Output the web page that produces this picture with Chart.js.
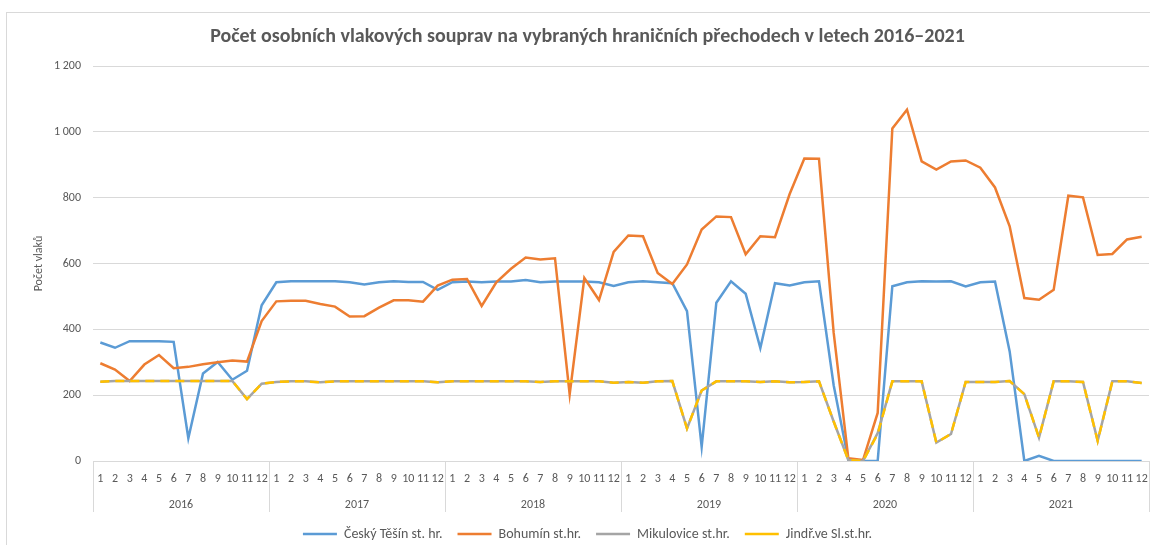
<!DOCTYPE html>
<html lang="cs">
<head>
<meta charset="utf-8">
<title>Počet osobních vlakových souprav</title>
<script src="https://cdn.jsdelivr.net/npm/chart.js@4.4.1/dist/chart.umd.min.js"></script>
<style>
  html, body { margin: 0; padding: 0; background: #fff; overflow: hidden; }
  #wrap { position: relative; width: 1150px; height: 545px; overflow: hidden; }
  #frame { position: absolute; left: 6px; top: 12px; width: 1150px; height: 545px;
           border: 1px solid #d9d9d9; pointer-events: none; }
</style>
</head>
<body>
<div id="wrap">
  <canvas id="trainChart"></canvas>
  <div id="frame"></div>
</div>
<script>
const years = ["2016", "2017", "2018", "2019", "2020", "2021"];
const monthNums = ["1", "2", "3", "4", "5", "6", "7", "8", "9", "10", "11", "12"];
const months = years.flatMap(() => monthNums);

const yTicks = [0, 200, 400, 600, 800, 1000, 1200];

// monthly counts per crossing, Jan 2016 .. Dec 2021
const ceskyTesin = [
    360, 344, 364, 364, 364, 362, 69, 266, 301, 247, 274, 473,
    543, 546, 546, 546, 546, 543, 536, 543, 546, 544, 544, 520,
    543, 545, 543, 545, 545, 550, 543, 545, 545, 545, 543, 532,
    543, 546, 543, 540, 455, 43, 481, 546, 508, 343, 540, 533,
    543, 546, 230, 3, 0, 0, 531, 543, 546, 545, 546, 530,
    543, 545, 333, 0, 16, 0, 0, 0, 0, 0, 0, 0
];
const bohumin = [
    297, 278, 243, 293, 322, 282, 286, 294, 300, 305, 302, 425,
    485, 487, 487, 477, 469, 439, 440, 466, 488, 488, 484, 533,
    551, 553, 471, 543, 584, 618, 612, 616, 202, 556, 489, 635,
    685, 683, 571, 538, 597, 703, 743, 741, 628, 683, 680, 811,
    919, 918, 390, 8, 3, 146, 1010, 1067, 910, 885, 910, 913,
    891, 831, 713, 495, 490, 520, 806, 801, 626, 629, 673, 681
];
const mikulovice = [
    241, 243, 243, 243, 243, 243, 243, 243, 243, 243, 188, 235,
    240, 242, 242, 239, 242, 242, 242, 242, 242, 242, 242, 239,
    242, 242, 242, 242, 242, 242, 240, 242, 242, 242, 242, 238,
    240, 238, 242, 243, 99, 214, 242, 242, 242, 240, 242, 239,
    240, 242, 120, 3, 0, 85, 242, 242, 242, 56, 82, 240,
    240, 240, 243, 203, 71, 242, 242, 240, 61, 242, 242, 237
];
const jindrichov = [
    241, 243, 243, 243, 243, 243, 243, 243, 243, 243, 188, 235,
    240, 242, 242, 239, 242, 242, 242, 242, 242, 242, 242, 239,
    242, 242, 242, 242, 242, 242, 240, 242, 242, 242, 242, 238,
    240, 238, 242, 243, 99, 214, 242, 242, 242, 240, 242, 239,
    240, 242, 120, 3, 0, 82, 242, 242, 242, 56, 82, 240,
    240, 240, 243, 203, 71, 242, 242, 240, 61, 242, 242, 237
];

const FONT = "Carlito, 'Open Sans', sans-serif";
const TEXT = "#595959";
const GRID = "#d9d9d9";

function series(label, data, color, order, dash) {
    return {
        label: label,
        data: data,
        borderColor: color,
        backgroundColor: color,
        borderWidth: 2.5,
        borderDash: dash || [],
        pointRadius: 0,
        tension: 0,
        fill: false,
        order: order
    };
}

// keep the plot running to the right edge: no extra side padding for labels
function noSidePadding(axis) {
    axis.paddingLeft = 0;
    axis.paddingRight = 0;
}

// vertical dividers between years, running through both label rows
const yearDividers = {
    id: "yearDividers",
    afterDraw(chart) {
        const x = chart.scales.x;
        const x2 = chart.scales.x2;
        const c = chart.ctx;
        c.save();
        c.strokeStyle = GRID;
        c.lineWidth = 1;
        c.beginPath();
        for (let k = 0; k <= years.length; k++) {
            const px = Math.round(x.getPixelForValue(k * 12 - 0.5)) + 0.5;
            c.moveTo(px, x.top);
            c.lineTo(px, x2.bottom);
        }
        c.stroke();
        c.restore();
    }
};

const ctx = document.getElementById("trainChart").getContext("2d");

new Chart(ctx, {
    type: "line",
    data: {
        labels: months,
        datasets: [
            series("Český Těšín st. hr.", ceskyTesin, "#5b9bd5", 3),
            series("Bohumín st.hr.", bohumin, "#ed7d31", 2),
            series("Mikulovice st.hr.", mikulovice, "#a5a5a5", 1),
            series("Jindř.ve Sl.st.hr.", jindrichov, "#ffc000", 0, [9, 6])
        ]
    },
    plugins: [yearDividers],
    options: {
        responsive: true,
        maintainAspectRatio: false,
        animation: false,
        layout: { padding: { left: 26, right: 1, top: 25, bottom: 0 } },
        plugins: {
            title: {
                display: true,
                text: "Počet osobních vlakových souprav na vybraných hraničních přechodech v letech 2016–2021",
                color: TEXT,
                font: { family: FONT, size: 20, weight: "bold" },
                padding: { top: 0, bottom: 17 }
            },
            legend: {
                position: "bottom",
                maxHeight: 33,
                labels: {
                    color: TEXT,
                    font: { family: FONT, size: 14 },
                    usePointStyle: true,
                    pointStyle: "line",
                    pointStyleWidth: 34,
                    padding: 15,
                    sort: (a, b) => a.datasetIndex - b.datasetIndex
                }
            },
            tooltip: { enabled: false }
        },
        scales: {
            y: {
                min: yTicks[0],
                max: yTicks[yTicks.length - 1],
                afterBuildTicks: axis => { axis.ticks = yTicks.map(v => ({ value: v })); },
                afterFit: axis => { axis.width = 67; },
                grid: { color: GRID, drawTicks: false },
                border: { display: false },
                ticks: {
                    color: TEXT,
                    font: { family: FONT, size: 12 },
                    padding: 12,
                    callback: v => String(v).replace(/\B(?=(\d{3})+(?!\d))/g, " ")
                },
                title: {
                    display: true,
                    text: "Počet vlaků",
                    color: TEXT,
                    font: { family: FONT, size: 12 },
                    padding: { top: 6, bottom: 0 }
                }
            },
            x: {
                offset: true,
                grid: { drawOnChartArea: false, drawTicks: false },
                border: { color: GRID },
                afterFit: axis => { axis.height = 26; noSidePadding(axis); },
                ticks: {
                    color: TEXT,
                    font: { family: FONT, size: 12 },
                    autoSkip: false,
                    maxRotation: 0,
                    padding: 11
                }
            },
            x2: {
                type: "category",
                labels: years,
                position: "bottom",
                offset: true,
                grid: { display: false, drawTicks: false },
                border: { display: false },
                afterFit: axis => { axis.height = 25; noSidePadding(axis); },
                ticks: {
                    color: TEXT,
                    font: { family: FONT, size: 12 },
                    maxRotation: 0,
                    padding: 11
                }
            }
        }
    }
});
</script>
</body>
</html>
